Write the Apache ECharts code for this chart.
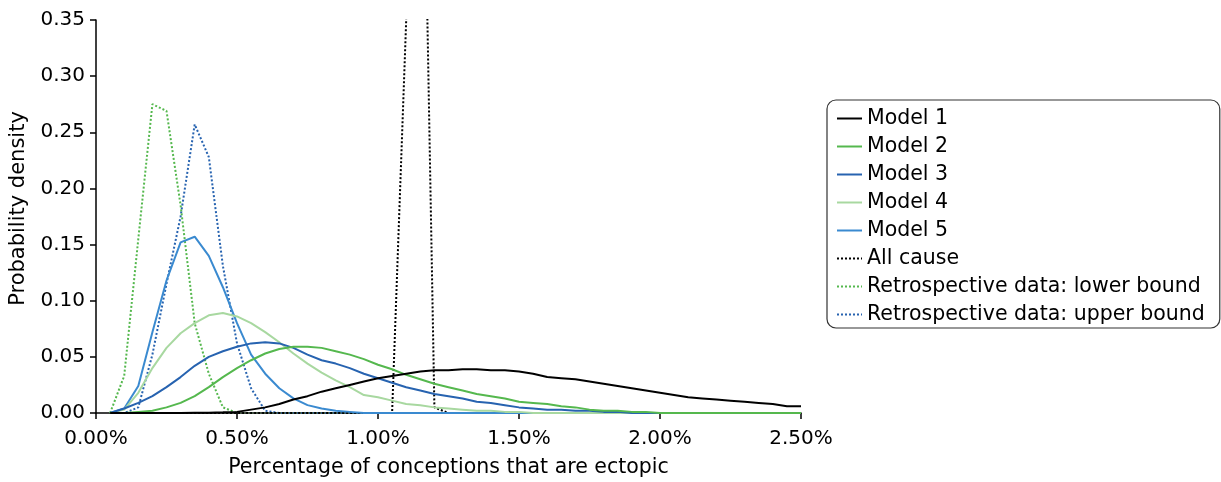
<!DOCTYPE html>
<html>
<head>
<meta charset="utf-8">
<script src="https://cdn.jsdelivr.net/npm/echarts@6/dist/echarts.min.js"></script>
<style>
html,body{margin:0;padding:0;background:#fff;}
#chart{width:1221px;height:482px;}
</style>
</head>
<body>
<div id="chart"></div>
<script>
// x grid (percentage of conceptions that are ectopic), step 0.05
const xValues = [0.05,0.10,0.15,0.20,0.25,0.30,0.35,0.40,0.45,0.50,0.55,0.60,0.65,0.70,0.75,0.80,0.85,0.90,0.95,1.00,
  1.05,1.10,1.15,1.20,1.25,1.30,1.35,1.40,1.45,1.50,1.55,1.60,1.65,1.70,1.75,1.80,1.85,1.90,1.95,2.00,
  2.05,2.10,2.15,2.20,2.25,2.30,2.35,2.40,2.45,2.50];

const model1 = [0,0,0,0,0,0.0001,0.0002,0.0003,0.0006,0.001,0.003,0.005,0.008,0.012,0.015,0.019,0.022,0.025,0.028,0.031,
  0.033,0.035,0.037,0.038,0.038,0.039,0.039,0.038,0.038,0.037,0.035,0.032,0.031,0.030,0.028,0.026,0.024,0.022,0.020,0.018,
  0.016,0.014,0.013,0.012,0.011,0.010,0.009,0.008,0.006,0.006];
const model2 = [0,0,0.001,0.002,0.005,0.009,0.015,0.023,0.032,0.040,0.047,0.053,0.057,0.059,0.059,0.058,0.055,0.052,0.048,0.043,
  0.039,0.034,0.030,0.026,0.023,0.020,0.017,0.015,0.013,0.010,0.009,0.008,0.006,0.005,0.003,0.002,0.002,0.001,0.001,0,
  0,0,0,0,0,0,0,0,0,0];
const model3 = [0,0.004,0.009,0.015,0.023,0.032,0.042,0.050,0.055,0.059,0.062,0.063,0.062,0.058,0.052,0.047,0.044,0.040,0.035,0.031,
  0.027,0.023,0.020,0.017,0.015,0.013,0.010,0.009,0.007,0.005,0.004,0.003,0.003,0.002,0.002,0.001,0.001,0,0,0,
  0,0,0,0,0,0,0,0,0,0];
const model4 = [0,0.003,0.018,0.040,0.058,0.071,0.080,0.087,0.089,0.086,0.080,0.072,0.063,0.053,0.044,0.036,0.029,0.023,0.016,0.014,
  0.011,0.008,0.007,0.005,0.004,0.003,0.002,0.002,0.001,0.001,0,0,0,0,0,0,0,0,0,0,
  0,0,0,0,0,0,0,0,0,0];
const model5 = [0,0.004,0.024,0.072,0.118,0.152,0.157,0.140,0.112,0.080,0.052,0.035,0.022,0.013,0.007,0.004,0.002,0.001,0,0,
  0,0,0,0,0,0,0,0,0,0,0,0,0,0,0,0,0,0,0,0,
  0,0,0,0,0,0,0,0,0,0];
const allCause = [0,0,0,0,0,0,0,0,0,0,0,0,0,0,0,0,0,0,0,0,
  0,0.35,0.70,0.005,0,0,0,0,0,0,0,0,0,0,0,0,0,0,0,0,
  0,0,0,0,0,0,0,0,0,0];
const retroLower = [0,0.033,0.155,0.275,0.269,0.185,0.080,0.035,0.005,0,0,0,0,0,0,0,0,0,0,0,
  0,0,0,0,0,0,0,0,0,0,0,0,0,0,0,0,0,0,0,0,
  0,0,0,0,0,0,0,0,0,0];
const retroUpper = [0,0,0.005,0.052,0.115,0.175,0.257,0.228,0.131,0.062,0.022,0.002,0,0,0,0,0,0,0,0,
  0,0,0,0,0,0,0,0,0,0,0,0,0,0,0,0,0,0,0,0,
  0,0,0,0,0,0,0,0,0,0];

const seriesNames = ['Model 1','Model 2','Model 3','Model 4','Model 5','All cause',
  'Retrospective data: lower bound','Retrospective data: upper bound'];
const xTickLabels = ['0.00%','0.50%','1.00%','1.50%','2.00%','2.50%'];
const yTickLabels = ['0.00','0.05','0.10','0.15','0.20','0.25','0.30','0.35'];

const FONT = '"DejaVu Sans", sans-serif';
const seriesData = [model1, model2, model3, model4, model5, allCause, retroLower, retroUpper];
const colors = ['#000000','#55b84e','#2763b0','#a8d8a0','#3a8ad0','#000000','#55b84e','#2763b0'];
const styles = ['solid','solid','solid','solid','solid','dotted','dotted','dotted'];

const series = seriesNames.map((name, i) => ({
  name: name,
  type: 'line',
  symbol: 'none',
  smooth: false,
  clip: true,
  data: xValues.map((x, j) => [x, seriesData[i][j]]),
  lineStyle: {color: colors[i], width: 2, type: styles[i]},
  itemStyle: {color: colors[i]},
  z: 10 - i
}));

const chart = echarts.init(document.getElementById('chart'), null, {renderer: 'canvas'});
chart.setOption({
  animation: false,
  backgroundColor: '#ffffff',
  grid: {left: 96, top: 20, right: 420, bottom: 69, containLabel: false, outerBoundsMode: 'none'},
  xAxis: {
    type: 'value', min: 0, max: 2.5, interval: 0.5,
    name: 'Percentage of conceptions that are ectopic',
    nameLocation: 'middle', nameGap: 44,
    nameTextStyle: {fontFamily: FONT, fontSize: 20.5, color: '#000'},
    axisLine: {show: true, onZero: false, lineStyle: {color: '#000', width: 1.5}},
    axisTick: {show: true, length: 6, lineStyle: {color: '#000', width: 1.5}},
    splitLine: {show: false},
    axisLabel: {fontFamily: FONT, fontSize: 20, color: '#000', margin: 16,
      formatter: (v) => xTickLabels[Math.round(v / 0.5)]}
  },
  yAxis: {
    type: 'value', min: 0, max: 0.35, interval: 0.05,
    name: 'Probability density',
    nameLocation: 'middle', nameGap: 67, nameRotate: 90,
    nameTextStyle: {fontFamily: FONT, fontSize: 21, color: '#000', padding: [0, 0, 0, 16]},
    axisLine: {show: true, lineStyle: {color: '#000', width: 1.5}},
    axisTick: {show: true, length: 6, lineStyle: {color: '#000', width: 1.5}},
    splitLine: {show: false},
    axisLabel: {fontFamily: FONT, fontSize: 20, color: '#000', margin: 11,
      formatter: (v) => yTickLabels[Math.round(v / 0.05)]}
  },
  legend: {
    show: true,
    orient: 'vertical',
    left: 827, top: 100,
    padding: [8, 15, 3, 9],
    borderColor: '#333', borderWidth: 1.2, borderRadius: 9,
    backgroundColor: '#fff',
    itemWidth: 25, itemHeight: 14, itemGap: 7,
    itemStyle: {opacity: 0},
    textStyle: {fontFamily: FONT, fontSize: 20.5, color: '#000', lineHeight: 21},
    data: seriesNames
  },
  series: series
});
</script>
</body>
</html>
